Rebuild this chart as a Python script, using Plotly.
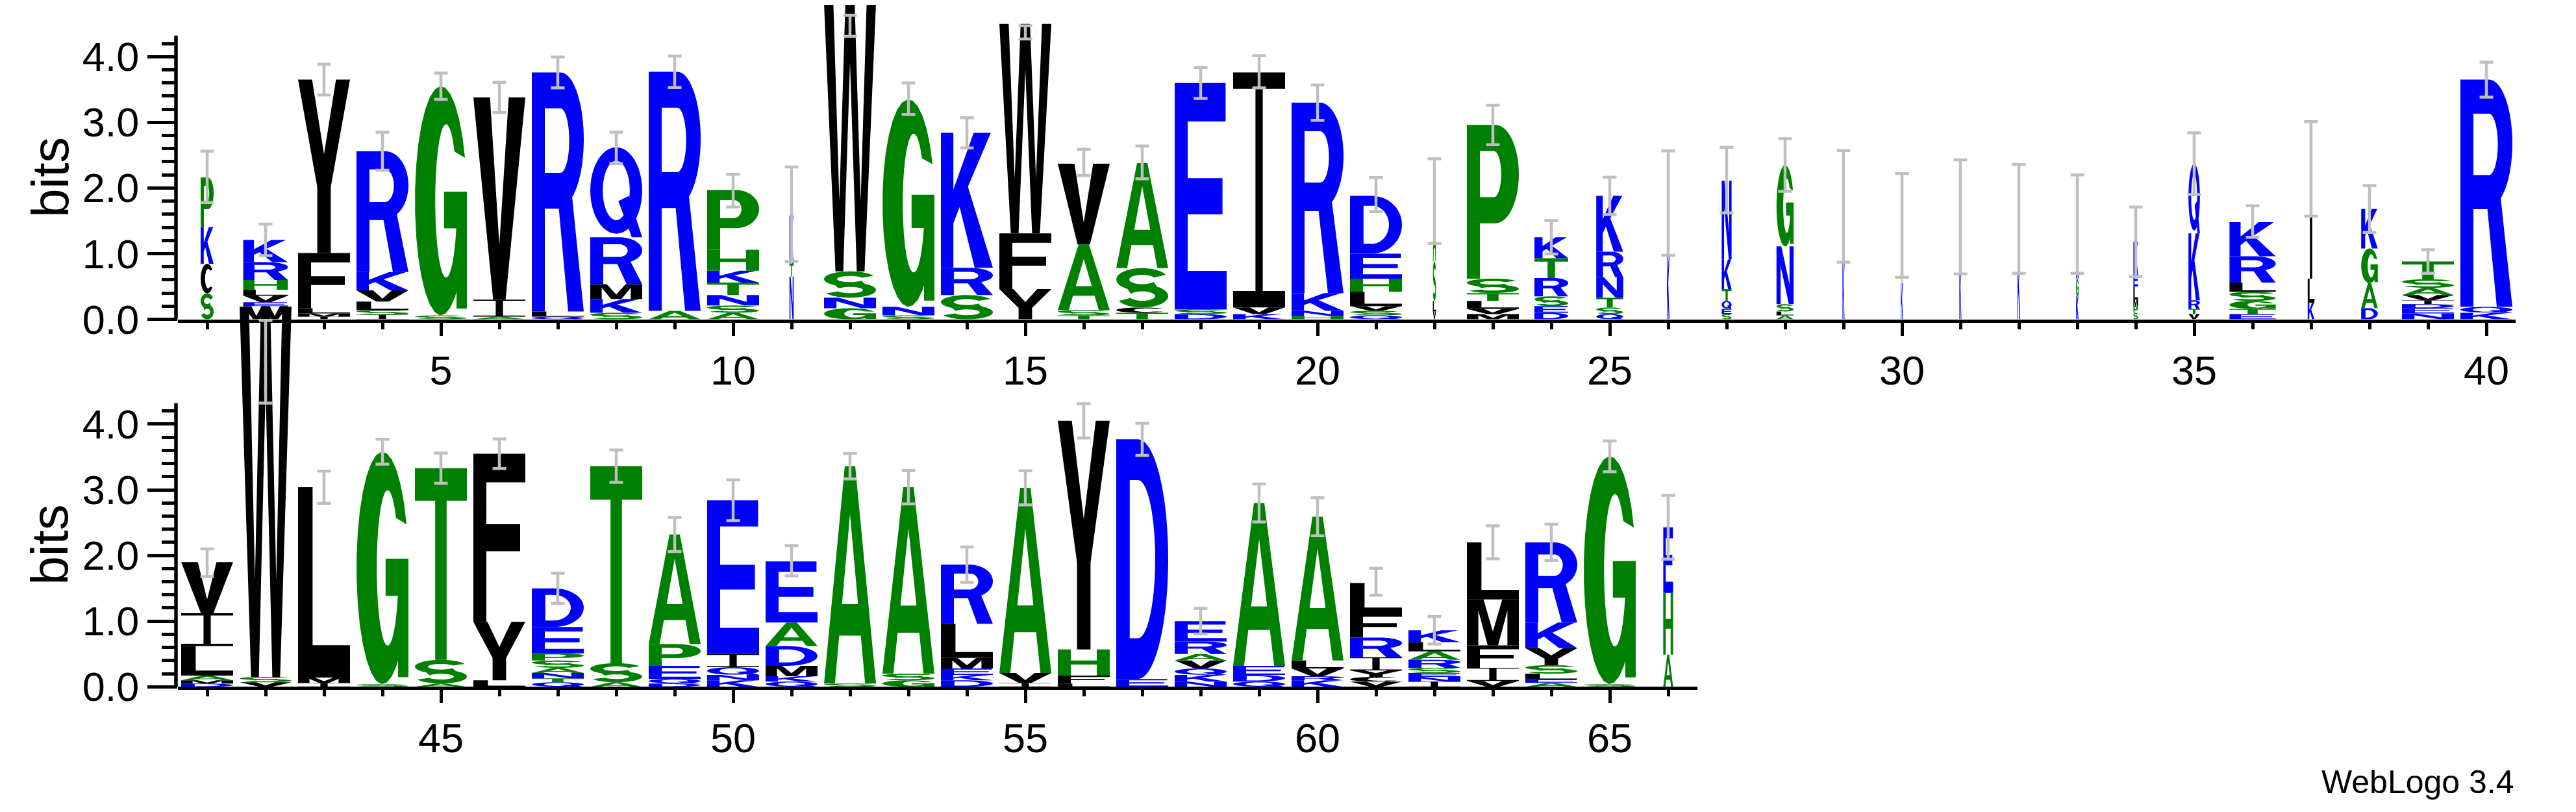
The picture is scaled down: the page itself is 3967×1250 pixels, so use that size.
import math
import plotly.graph_objects as go

# ---------------------------------------------------------------- data
# letters of each column, bottom -> top (WebLogo stacks), columns 1..66
COLUMNS = ["SCKP", "WEVLHRK", "IMLFY", "ISLVKR", "SG", "AIV", "QLR", "SKMRQ", "AR", "ASNTKHP",
           "NTK", "GNSW", "SNG", "SRK", "YFW", "TSAV", "TCSA", "DSE", "KVI", "HNKR",
           "QSVLHED", "VLSA", "MVLTSP", "DESRTK", "QSTNRK", "KRG", "SEQTKN", "ALSNG", "KRN", "KTRL",
           "KR", "KRL", "KGRT", "SPMLEK", "VTRKQ", "ETGSLRK", "KLI", "DAGK", "NEDIVAST", "KQR",
           "DMALIV", "VSW", "IML", "SG", "AST", "LYF", "QTNASPED", "AST", "DQEPA", "KNQIE",
           "QKMDAE", "SA", "GSA", "DKEMLR", "IVA", "LFHY", "ED", "NKQVARE", "QDEA", "KRVLA",
           "VCYIRFL", "INESRALK", "VIFML", "AELSYKR", "SG", "AHE"]

# letter heights in bits, same order as COLUMNS
HEIGHTS = [
    [0.395, 0.45, 0.56, 0.755], [0.2, 0.06, 0.1, 0.09, 0.15, 0.27, 0.34], [0.04, 0.05, 0.08, 0.84, 2.64],
    [0.07, 0.07, 0.13, 0.17, 0.28, 1.84], [0.06, 3.49], [0.04, 0.26, 3.08], [0.04, 0.08, 3.64],
    [0.1, 0.21, 0.225, 0.715, 1.37], [0.13, 3.64], [0.10, 0.11, 0.16, 0.19, 0.18, 0.32, 0.91],
    [0.65, 0.2, 0.73], [0.17, 0.16, 0.40, 4.08], [0.06, 0.13, 3.16], [0.37, 0.415, 2.055],
    [0.46, 0.85, 3.19], [0.06, 0.08, 1.0, 1.23], [0.1, 0.08, 0.6, 1.6], [0.08, 0.07, 3.45],
    [0.08, 0.1, 3.58], [0.05, 0.08, 0.27, 2.9],
    [0.06, 0.07, 0.07, 0.22, 0.2, 0.38, 0.88], [0.12, 0.16, 0.6, 0.9], [0.08, 0.08, 0.12, 0.12, 0.22, 2.34],
    [0.1, 0.1, 0.15, 0.28, 0.3, 0.32], [0.08, 0.1, 0.15, 0.31, 0.39, 0.85], [0.9, 0.7, 0.17],
    [0.08, 0.08, 0.12, 0.18, 0.45, 1.2], [0.06, 0.06, 0.11, 0.88, 1.24], [0.8, 0.6, 0.32],
    [0.55, 0.1, 0.35, 0.43],
    [0.8, 0.75], [0.9, 0.5, 0.13], [0.35, 0.27, 0.5, 0.33], [0.1, 0.1, 0.1, 0.2, 0.2, 0.48],
    [0.08, 0.08, 0.13, 1.02, 1.06], [0.08, 0.08, 0.12, 0.14, 0.14, 0.40, 0.52], [0.25, 0.37, 1.67],
    [0.17, 0.38, 0.53, 0.6], [0.09, 0.08, 0.06, 0.06, 0.08, 0.11, 0.13, 0.27], [0.1, 0.09, 3.46],
    [0.05, 0.05, 0.07, 0.45, 0.5, 0.78], [0.07, 0.08, 5.64], [0.06, 0.08, 2.9], [0.04, 3.54],
    [0.05, 0.36, 2.92], [0.1, 0.89, 2.56], [0.07, 0.06, 0.08, 0.08, 0.11, 0.11, 0.4, 0.59],
    [0.07, 0.29, 3.0], [0.05, 0.07, 0.2, 0.33, 1.67], [0.1, 0.08, 0.12, 0.2, 2.34],
    [0.08, 0.08, 0.16, 0.3, 0.36, 0.93], [0.05, 3.31], [0.1, 0.1, 2.84], [0.1, 0.08, 0.1, 0.16, 0.52, 0.9],
    [0.06, 0.15, 2.82], [0.05, 0.12, 0.4, 3.48], [0.12, 3.65], [0.08, 0.1, 0.1, 0.12, 0.1, 0.19, 0.31],
    [0.08, 0.1, 0.14, 2.48], [0.1, 0.06, 0.12, 0.12, 2.19],
    [0.08, 0.07, 0.1, 0.2, 0.3, 0.38, 0.45], [0.08, 0.07, 0.06, 0.08, 0.12, 0.13, 0.14, 0.18],
    [0.09, 0.2, 0.34, 0.7, 0.87], [0.06, 0.05, 0.09, 0.13, 0.26, 0.39, 1.22], [0.04, 3.47],
    [0.49, 0.94, 1.0],
]

# stack width as a fraction of a full column (gappy columns are thinner)
WIDTHS = [0.25, 0.86, 1, 1, 1, 1, 1, 1, 1, 1,
          0.08, 1, 1, 1, 1, 1, 1, 1, 1, 1,
          1, 0.06, 1, 0.65, 0.52, 0.05, 0.19, 0.33, 0.04, 0.04,
          0.04, 0.05, 0.05, 0.09, 0.22, 0.89, 0.13, 0.32, 1, 1,
          1, 1, 1, 1, 1, 1, 1, 1, 1, 1,
          1, 1, 1, 1, 1, 1, 1, 1, 1, 1,
          1, 1, 1, 1, 1, 0.19]

# error bars: centre and half length, bits
ERR_MID = [2.17, 1.21, 3.65, 2.56, 3.55, 3.38, 3.76, 2.61, 3.77, 1.96,
           1.60, 4.47, 3.36, 2.84, 4.37, 2.39, 2.39, 3.60, 3.77, 3.30,
           1.90, 1.80, 2.96, 1.25, 1.88, 1.77, 2.12, 2.35, 1.72, 1.43,
           1.56, 1.53, 1.45, 1.18, 2.37, 1.49, 2.29, 1.68, 0.88, 3.65,
           1.89, 4.95, 3.04, 3.58, 3.33, 3.55, 1.50, 3.36, 2.32, 2.84,
           1.92, 3.36, 3.04, 1.86, 3.03, 4.05, 3.77, 1.00, 2.80, 2.59,
           1.60, 0.86, 2.20, 2.20, 3.51, 2.43]
ERR_HALF = [0.39, 0.24, 0.235, 0.29, 0.20, 0.23, 0.235, 0.24, 0.24, 0.25,
            0.72, 0.16, 0.24, 0.23, 0.10, 0.20, 0.25, 0.235, 0.245, 0.27,
            0.26, 0.645, 0.30, 0.255, 0.285, 0.795, 0.50, 0.40, 0.85, 0.79,
            0.87, 0.83, 0.75, 0.53, 0.47, 0.24, 0.72, 0.355, 0.18, 0.265,
            0.21, 0.63, 0.245, 0.19, 0.23, 0.225, 0.23, 0.245, 0.26, 0.31,
            0.23, 0.195, 0.255, 0.27, 0.26, 0.26, 0.245, 0.195, 0.29, 0.29,
            0.205, 0.21, 0.25, 0.275, 0.235, 0.485]

ROW_SPLIT = 40          # columns 1..40 on the first line, 41..66 on the second
Y_MAX = math.log2(20)   # protein logo maximum
Y_TICKS = [0, 1, 2, 3, 4]
Y_MINOR = [round(0.2 * i, 1) for i in range(1, 22) if i % 5]

# hydrophobicity colour scheme
COLORS = {}
for aa in "RKDENQ":
    COLORS[aa] = "#0000ff"
for aa in "SGHTAP":
    COLORS[aa] = "#008000"
for aa in "YVMCLFIW":
    COLORS[aa] = "#000000"

# ---------------------------------------------------------------- layout constants
W, H = 3967, 1250
BIT_PX = 104.0
ROW1_BASE, ROW2_BASE = 497.5, 1079.5
LEFT_PX, COL_PX = 266, 90
GLYPH_W = 80 / 90
FONT = "Liberation Sans, Arial, Helvetica, sans-serif"


# ---------------------------------------------------------------- glyph outlines (unit box)
def arc(cx, cy, rx, ry, a0, a1, n=28):
    pts = []
    for i in range(n + 1):
        t = math.radians(a0 + (a1 - a0) * i / n)
        pts.append((cx + rx * math.cos(t), cy + ry * math.sin(t)))
    return pts


def _glyphs():
    g = {}
    g["A"] = [([(0, 0), (0.21, 0), (0.292, 0.22), (0.708, 0.22), (0.79, 0), (1, 0), (0.6, 1), (0.4, 1)], False),
              ([(0.346, 0.365), (0.654, 0.365), (0.5, 0.78)], True)]
    g["C"] = [(arc(0.5, 0.5, 0.5, 0.5, 35, 325) + arc(0.58, 0.5, 0.24, 0.33, 305, 55), False)]
    g["D"] = [([(0, 0)] + arc(0.42, 0.5, 0.58, 0.5, -90, 90) + [(0, 1)], False),
              ([(0.26, 0.17)] + arc(0.42, 0.5, 0.33, 0.33, -90, 90) + [(0.26, 0.83)], True)]
    g["E"] = [([(0, 0), (1, 0), (1, 0.17), (0.25, 0.17), (0.25, 0.42), (0.92, 0.42), (0.92, 0.58),
                (0.25, 0.58), (0.25, 0.83), (0.98, 0.83), (0.98, 1), (0, 1)], False)]
    g["F"] = [([(0, 0), (0.25, 0), (0.25, 0.42), (0.9, 0.42), (0.9, 0.58), (0.25, 0.58), (0.25, 0.83),
                (1, 0.83), (1, 1), (0, 1)], False)]
    g["G"] = [(arc(0.5, 0.5, 0.5, 0.5, 22, 350) + arc(0.6, 0.5, 0.21, 0.335, 350, 40), False),
              ([(0.56, 0.38), (1, 0.38), (1, 0.54), (0.56, 0.54)], False),
              ([(0.8, 0.03), (1, 0.03), (1, 0.42), (0.8, 0.42)], False)]
    g["H"] = [([(0, 0), (0.25, 0), (0.25, 0.42), (0.75, 0.42), (0.75, 0), (1, 0), (1, 1), (0.75, 1),
                (0.75, 0.58), (0.25, 0.58), (0.25, 1), (0, 1)], False)]
    g["I"] = [([(0, 0), (1, 0), (1, 0.07), (0.57, 0.07), (0.57, 0.93), (1, 0.93), (1, 1), (0, 1),
                (0, 0.93), (0.43, 0.93), (0.43, 0.07), (0, 0.07)], False)]
    g["K"] = [([(0, 0), (0.24, 0), (0.24, 0.33), (0.36, 0.45), (0.65, 0), (1, 0), (0.52, 0.6), (0.96, 1),
                (0.63, 1), (0.24, 0.58), (0.24, 1), (0, 1)], False)]
    g["L"] = [([(0, 0), (1, 0), (1, 0.17), (0.28, 0.17), (0.28, 1), (0, 1)], False)]
    g["M"] = [([(0, 0), (0.22, 0), (0.22, 0.76), (0.4, 0), (0.6, 0), (0.78, 0.76), (0.78, 0), (1, 0),
                (1, 1), (0.68, 1), (0.5, 0.3), (0.32, 1), (0, 1)], False)]
    g["N"] = [([(0, 0), (0.24, 0), (0.24, 0.66), (0.72, 0), (1, 0), (1, 1), (0.76, 1), (0.76, 0.34),
                (0.28, 1), (0, 1)], False)]
    g["P"] = [([(0, 0), (0.25, 0), (0.25, 0.36), (0.55, 0.36)] + arc(0.55, 0.68, 0.45, 0.32, -90, 90) + [(0, 1)], False),
              ([(0.25, 0.53), (0.52, 0.53)] + arc(0.52, 0.68, 0.14, 0.15, -90, 90) + [(0.25, 0.83)], True)]
    g["Q"] = [(arc(0.5, 0.52, 0.5, 0.48, 0, 360, 48), False),
              (arc(0.5, 0.52, 0.26, 0.33, 0, 360, 48), True),
              ([(0.54, 0.40), (0.74, 0.46), (1.0, 0.0), (0.8, 0.0)], False)]
    g["R"] = [([(0, 0), (0.25, 0), (0.25, 0.43), (0.52, 0.43), (0.70, 0), (1, 0), (0.78, 0.47)]
               + arc(0.55, 0.72, 0.45, 0.28, -60, 90) + [(0, 1)], False),
              ([(0.25, 0.58), (0.55, 0.58)] + arc(0.55, 0.715, 0.17, 0.135, -90, 90) + [(0.25, 0.85)], True)]
    g["S"] = [(arc(0.5, 0.71, 0.5, 0.29, 25, 235) + arc(0.5, 0.29, 0.25, 0.12, 150, -155)
               + arc(0.5, 0.29, 0.5, 0.29, 205, 415) + arc(0.5, 0.71, 0.25, 0.12, -30, -335), False)]
    g["T"] = [([(0, 1), (1, 1), (1, 0.83), (0.61, 0.83), (0.61, 0), (0.39, 0), (0.39, 0.83), (0, 0.83)], False)]
    g["V"] = [([(0, 1), (0.32, 1), (0.5, 0.27), (0.68, 1), (1, 1), (0.62, 0), (0.38, 0)], False)]
    g["W"] = [([(0, 1), (0.18, 1), (0.295, 0.26), (0.41, 1), (0.59, 1), (0.705, 0.26), (0.82, 1), (1, 1),
                (0.78, 0), (0.63, 0), (0.5, 0.78), (0.37, 0), (0.22, 0)], False)]
    g["Y"] = [([(0, 1), (0.27, 1), (0.5, 0.57), (0.73, 1), (1, 1), (0.63, 0.38), (0.63, 0), (0.37, 0),
                (0.37, 0.38)], False)]
    return g


def _oriented(pts, hole):
    area = 0.0
    for (x0, y0), (x1, y1) in zip(pts, pts[1:] + pts[:1]):
        area += x0 * y1 - x1 * y0
    if (area > 0) == hole:
        pts = pts[::-1]
    return pts


GLYPHS = {k: [(_oriented(p, h), h) for p, h in v] for k, v in _glyphs().items()}


def _thin_bar(width):
    # very narrow columns: an I renders as a plain bar a few pixels wide
    half = min(0.5, max(0.07, 1.8 / (width * COL_PX)))
    return [([(0.5 - half, 0), (0.5 + half, 0), (0.5 + half, 1), (0.5 - half, 1)], False)]


def letter_path(letter, xc, width, y0, height):
    outline = GLYPHS[letter]
    if letter == "I" and width * COL_PX < 30:
        outline = _thin_bar(width)
    parts = []
    for pts, _ in outline:
        coords = ["%.4f,%.4f" % (xc - width / 2 + gx * width, y0 + gy * height) for gx, gy in pts]
        parts.append("M" + "L".join(coords) + "Z")
    return "".join(parts)


# ---------------------------------------------------------------- figure
fig = go.Figure()
shapes = []

for i, (letters, heights) in enumerate(zip(COLUMNS, HEIGHTS)):
    pos = i + 1
    xr, yr = ("x", "y") if pos <= ROW_SPLIT else ("x2", "y2")
    width = GLYPH_W * WIDTHS[i]
    base = 0.0
    for aa, h in zip(letters, heights):
        shapes.append(dict(type="path", path=letter_path(aa, pos, width, base, h),
                           xref=xr, yref=yr, fillcolor=COLORS[aa], line=dict(width=0),
                           layer="below", fillrule="nonzero"))
        base += h

positions = list(range(1, len(COLUMNS) + 1))
for xa, ya, sl in (("x", "y", slice(0, ROW_SPLIT)), ("x2", "y2", slice(ROW_SPLIT, None))):
    fig.add_trace(go.Scatter(
        x=positions[sl], y=ERR_MID[sl], mode="markers",
        marker=dict(size=2, opacity=0),
        error_y=dict(type="data", array=ERR_HALF[sl], symmetric=True,
                     color="#bfbfbf", thickness=4.5, width=10.5),
        xaxis=xa, yaxis=ya, hoverinfo="skip", showlegend=False))

# y axis lines only span 0..max bits
for yr in ("y", "y2"):
    shapes.append(dict(type="line", xref="paper", yref=yr, x0=263 / W, x1=263 / W, y0=0, y1=Y_MAX,
                       line=dict(color="black", width=5.5), layer="above"))

fig.update_layout(shapes=shapes)

tickfont = dict(family=FONT, size=63, color="black")
xcommon = dict(showgrid=False, zeroline=False, showline=True, linewidth=5, linecolor="black",
               ticks="outside", ticklen=20, tickwidth=5, tickcolor="black", tick0=0, dtick=5,
               minor=dict(ticks="outside", ticklen=10, tickwidth=5, tickcolor="black", tick0=0, dtick=1),
               tickfont=tickfont, fixedrange=True)
ycommon = dict(showgrid=False, zeroline=False, showline=False, ticks="outside", ticklen=46, tickwidth=5,
               tickcolor="black", tickmode="array", tickvals=Y_TICKS, tickformat=".1f",
               minor=dict(ticks="outside", ticklen=24, tickwidth=5, tickcolor="black",
                          tickmode="array", tickvals=Y_MINOR),
               tickfont=tickfont, fixedrange=True)

fig.update_layout(
    width=W, height=H, margin=dict(l=0, r=0, t=0, b=0),
    paper_bgcolor="white", plot_bgcolor="rgba(0,0,0,0)", showlegend=False,
    xaxis=dict(xcommon, domain=[LEFT_PX / W, (LEFT_PX + ROW_SPLIT * COL_PX) / W],
               range=[0.5, ROW_SPLIT + 0.5], anchor="y"),
    yaxis=dict(ycommon, domain=[1 - ROW1_BASE / H, 1], range=[0, ROW1_BASE / BIT_PX], anchor="x"),
    xaxis2=dict(xcommon, domain=[LEFT_PX / W, (LEFT_PX + (len(COLUMNS) - ROW_SPLIT) * COL_PX) / W],
                range=[ROW_SPLIT + 0.5, len(COLUMNS) + 0.5], anchor="y2"),
    yaxis2=dict(ycommon, domain=[1 - ROW2_BASE / H, 1], range=[0, ROW2_BASE / BIT_PX], anchor="x2"),
)

for yr in ("y", "y2"):
    fig.add_annotation(text="bits", xref="paper", yref=yr, x=69 / W, y=Y_MAX / 2, textangle=-90,
                       showarrow=False, xanchor="center", yanchor="middle",
                       font=dict(family=FONT, size=80, color="black"))

fig.add_annotation(text="WebLogo 3.4", xref="paper", yref="paper", x=3866 / W, y=1 - 1230 / H,
                   showarrow=False, xanchor="right", yanchor="middle",
                   font=dict(family=FONT, size=50, color="black"))

fig.write_html("out.html")
